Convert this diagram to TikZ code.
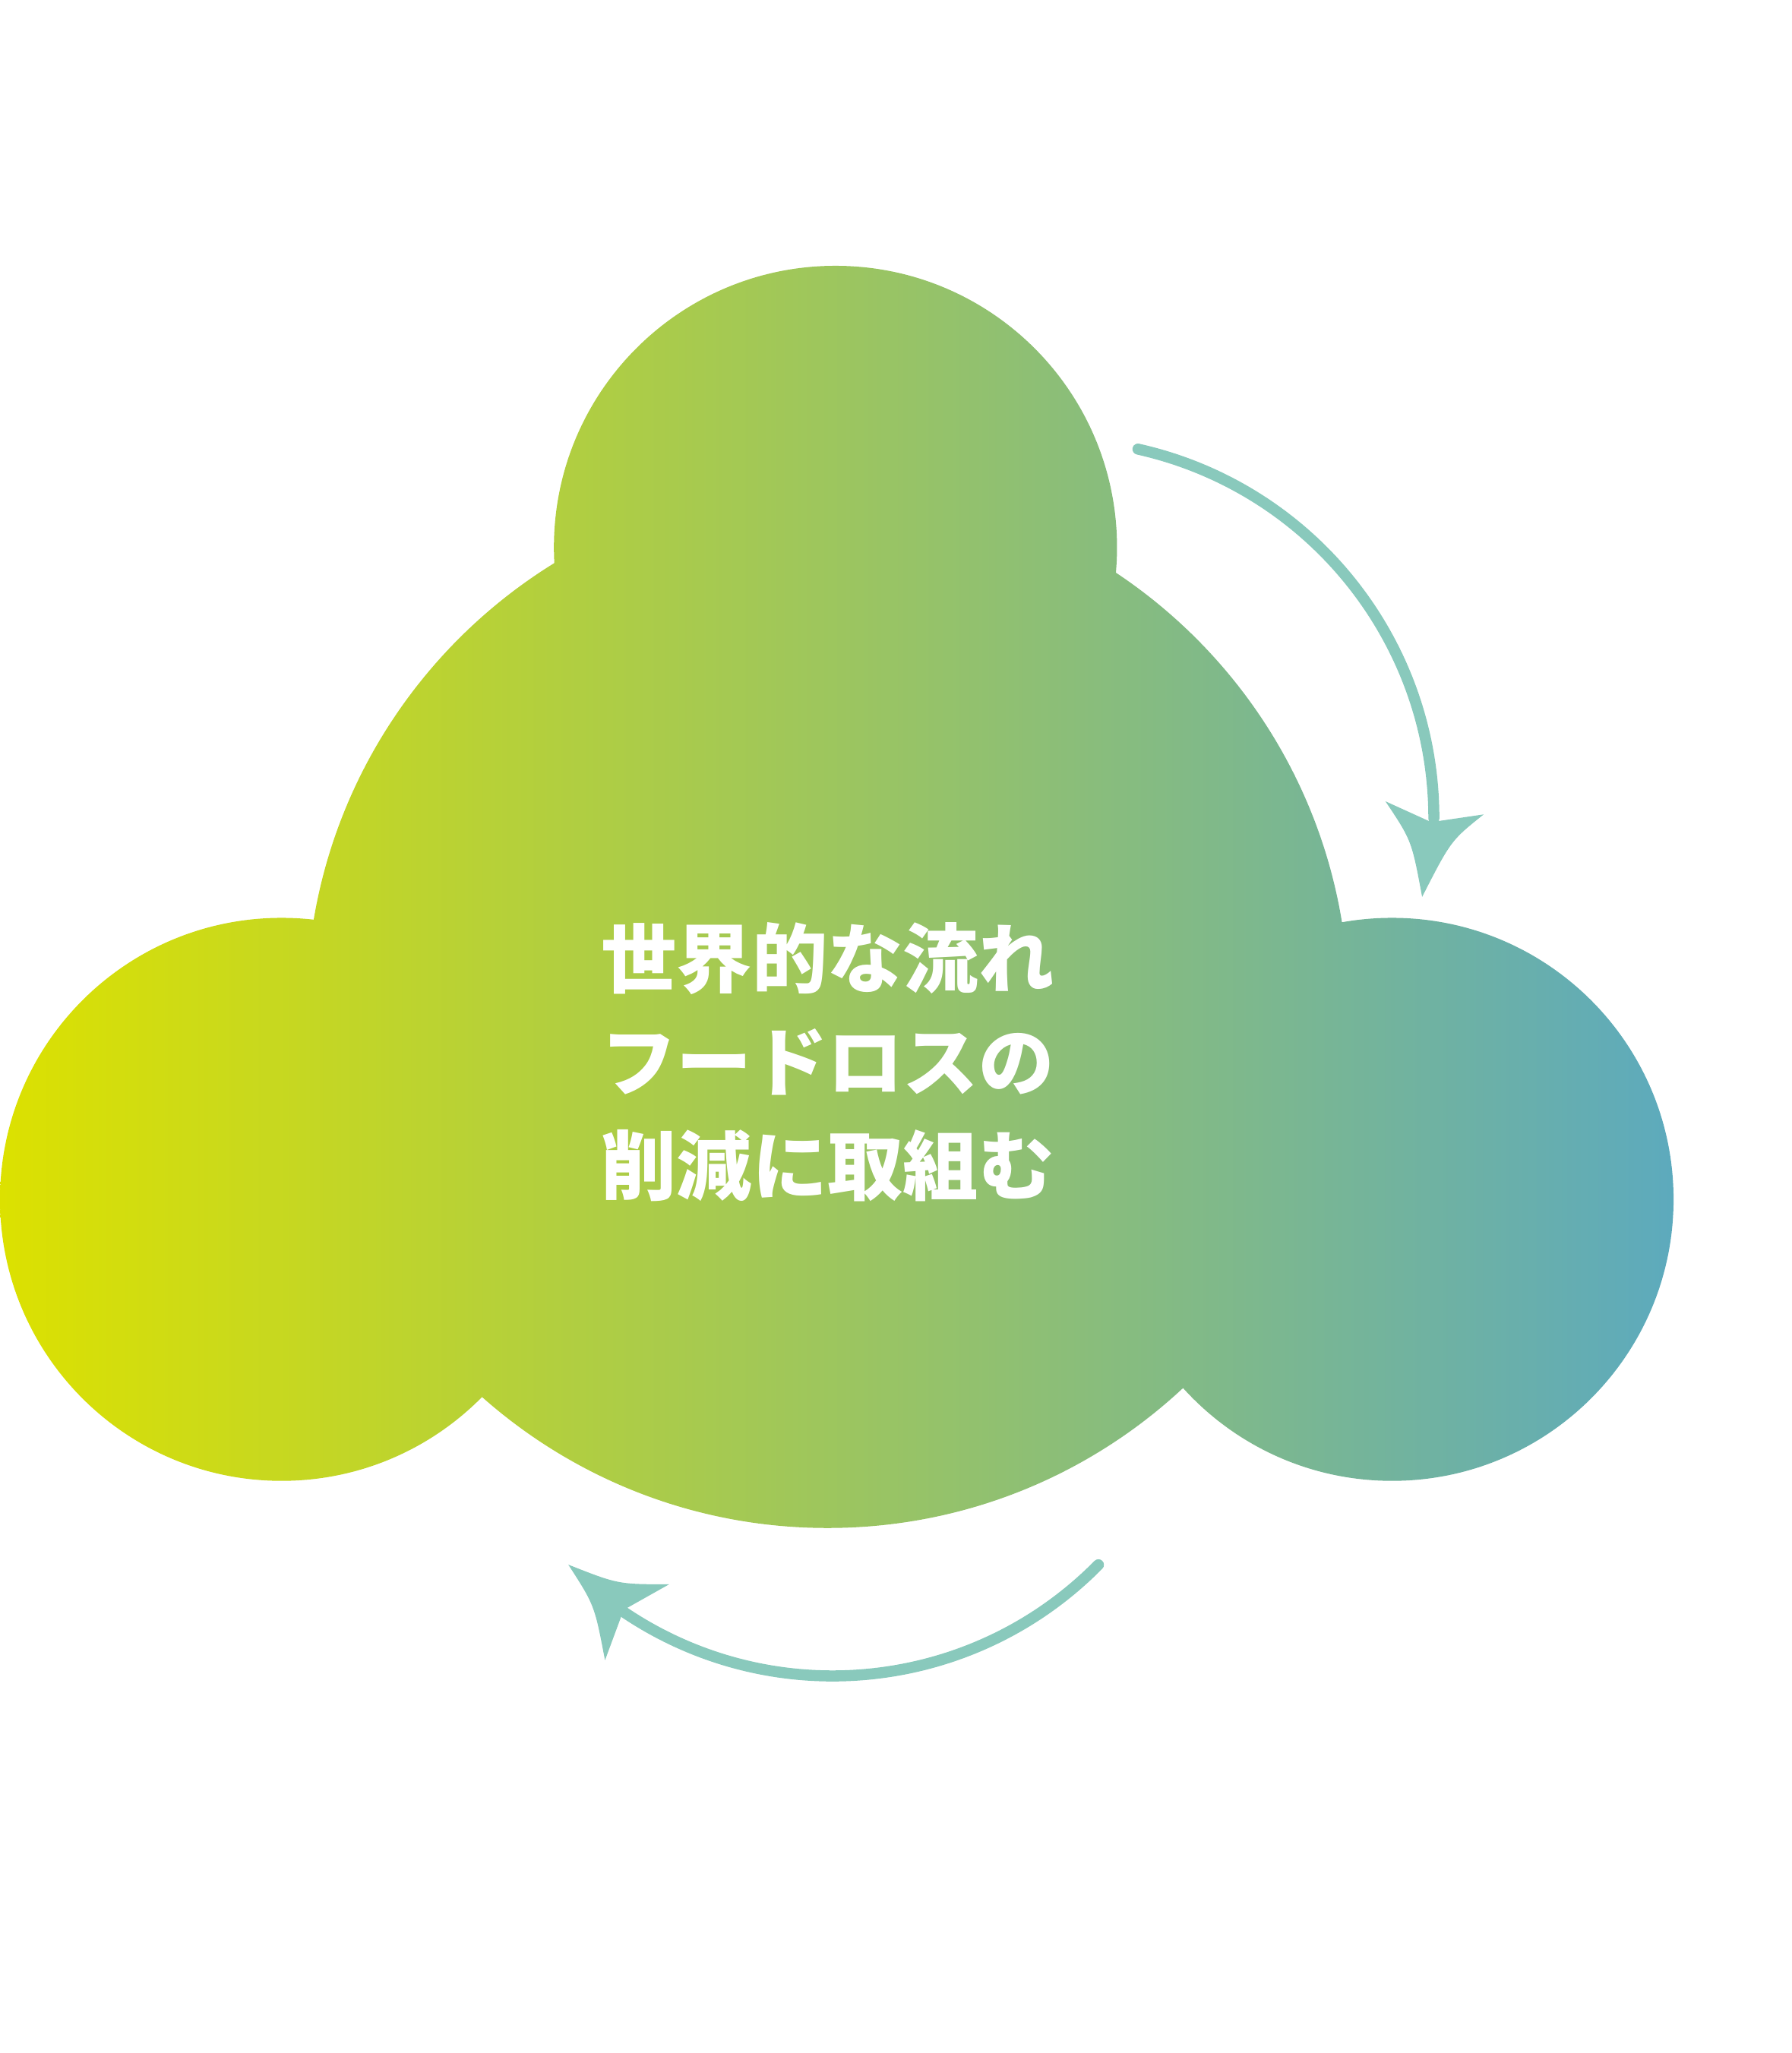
\documentclass[tikz,border=0pt]{standalone}
\usepackage{fontspec}
\newfontfamily\jpfont{Noto Sans CJK JP}
\definecolor{cloudleft}{HTML}{DCE100}
\definecolor{cloudright}{HTML}{5DAABD}
\definecolor{arrowteal}{HTML}{89C9BC}
\begin{document}
\begin{tikzpicture}[x=0.01cm,y=-0.01cm,
    flow/.style={draw=arrowteal,line width=2.4pt,line cap=round},
    tiphead/.style={fill=arrowteal},
    motto/.style={text=white,font=\jpfont\bfseries\fontsize{16.4pt}{22.5pt}\selectfont,align=center,inner sep=0pt}]
  \useasboundingbox (0,0) rectangle (1368,1568);
  % cloud
  \shade[left color=cloudleft,right color=cloudright]
    (632,769) circle[radius=398]
    (638,418) circle[radius=215]
    (215,916) circle[radius=215]
    (1063,916) circle[radius=215];
  \node[motto] (title) at (632,811) {世界的な流れ\\フードロスの\\削減に取組む};
  % arrows
  \coordinate (topstart) at (869,343);
  \coordinate (botstart) at (838.8,1195.1);
  \draw[flow] (topstart) arc[start angle=-77.4,end angle=0,radius=289];
  \fill[tiphead] (1058,612) -- (1091,627) -- (1099,627) -- (1133,622)
    .. controls (1108,642) .. (1086,685) .. controls (1078,642) .. (1058,612) -- cycle;
  \draw[flow] (botstart) arc[start angle=44.6,end angle=124,radius=285];
  \fill[tiphead] (434,1195) .. controls (472,1210) .. (511,1210) -- (479,1228)
    -- (474.6,1234) -- (462,1268) .. controls (454,1226) .. (434,1195) -- cycle;
\end{tikzpicture}
\end{document}
